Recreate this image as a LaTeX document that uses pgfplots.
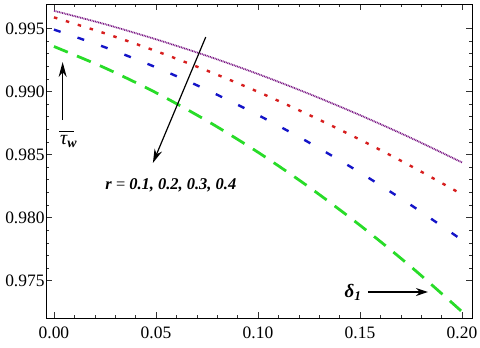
\documentclass[border=0pt]{standalone}
\usepackage{pgfplots}
\pgfplotsset{compat=1.18}
\usepackage{fontspec}
\setmainfont{Liberation Serif}
\usetikzlibrary{arrows.meta}
\definecolor{CurvePurple}{RGB}{120,20,130}
\definecolor{CurveRed}{RGB}{215,30,30}
\definecolor{CurveBlue}{RGB}{20,20,200}
\definecolor{CurveGreen}{RGB}{40,220,40}

% wall shear stress vs delta_1, r = 0.1 ... 0.4
\pgfplotstableread{
x      r1      r2      r3      r4
0.000  0.99639 0.99587 0.99490 0.99356
0.025  0.99533 0.99460 0.99350 0.99186
0.050  0.99413 0.99320 0.99191 0.98990
0.075  0.99282 0.99165 0.99012 0.98767
0.100  0.99138 0.98997 0.98813 0.98518
0.125  0.98981 0.98814 0.98595 0.98242
0.150  0.98812 0.98618 0.98357 0.97939
0.175  0.98631 0.98408 0.98099 0.97610
0.200  0.98437 0.98184 0.97822 0.97254
}\shear

\begin{document}
\begin{tikzpicture}
\begin{axis}[
scale only axis,
width=426bp,
height=313.5bp,
xmin=-0.0039, xmax=0.2049,
ymin=0.97204, ymax=0.99689,
xtick={0,0.05,0.1,0.15,0.2},
ytick={0.975,0.98,0.985,0.99,0.995},
minor tick num=4,
tick align=inside,
major tick length=6bp,
minor tick length=3bp,
tick style={black!80, line width=0.5pt},
axis line style={black, line width=0.7pt},
scaled ticks=false,
tick label style={font=\fontsize{17.5}{19}\selectfont},
xticklabel style={/pgf/number format/fixed, /pgf/number format/fixed zerofill,
  /pgf/number format/precision=2, /pgf/number format/assume math mode=true, yshift=-5bp},
yticklabel style={/pgf/number format/fixed, /pgf/number format/fixed zerofill,
  /pgf/number format/precision=3, /pgf/number format/assume math mode=true, xshift=2bp},
clip=false,
]
\coordinate (SW) at (rel axis cs:0,0);
\coordinate (NE) at (rel axis cs:1,1);

\addplot[CurvePurple, line width=1.8pt, dash pattern=on 0.9pt off 0.8pt, smooth] table[x=x, y=r1] {\shear};
\addplot[CurveRed, line width=2.4pt, dash pattern=on 3.5pt off 9pt, smooth] table[x=x, y=r2] {\shear};
\addplot[CurveBlue, line width=2.4pt, dash pattern=on 7pt off 18pt, smooth] table[x=x, y=r3] {\shear};
\addplot[CurveGreen, line width=2.8pt, dash pattern=on 15pt off 10pt, smooth] table[x=x, y=r4] {\shear};

\draw[black, line width=1.2pt, -{Stealth[length=14bp, width=8bp]}]
(axis cs:0.0744,0.99431) -- (axis cs:0.0485,0.98433);
\node[font=\fontsize{16.5}{18}\selectfont\bfseries\itshape]
at (axis cs:0.0573,0.98258) {r {\normalfont=} 0.1, 0.2, 0.3, 0.4};

\draw[black, line width=1.2pt, -{Stealth[length=15bp, width=8bp]}]
(axis cs:0.00426,0.98773) -- (axis cs:0.00426,0.99233);
\node[font=\fontsize{20}{22}\selectfont\itshape]
at (axis cs:0.00720,0.98618) {\rlap{\hspace{-0.05em}\raisebox{0.62em}{\rule{0.75em}{1.3pt}}}τ\textsubscript{\bfseries w}};

\node[font=\fontsize{19}{20}\selectfont\bfseries\itshape]
at (axis cs:0.1466,0.97410) {δ\textsubscript{1}};
\draw[black, line width=1.2pt, -{Stealth[length=12bp, width=8bp]}]
(axis cs:0.1539,0.97410) -- (axis cs:0.1833,0.97410);
\end{axis}
\pgfresetboundingbox
\path[use as bounding box] ([shift={(-46bp,-30bp)}]SW) rectangle ([shift={(8bp,4.5bp)}]NE);
\end{tikzpicture}
\end{document}
